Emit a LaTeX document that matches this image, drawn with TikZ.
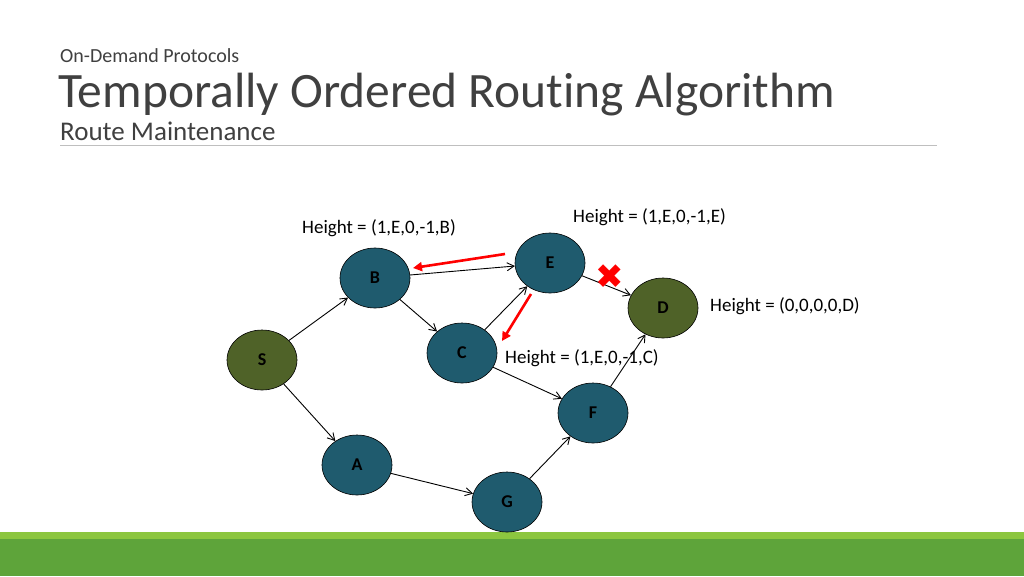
\documentclass[tikz,border=0pt]{standalone}
\usepackage{fontspec}
\setmainfont{Carlito}[Ligatures=NoCommon]
\usetikzlibrary{arrows.meta,shapes.geometric}
\definecolor{teal1}{HTML}{1F5B6E}
\definecolor{olive1}{HTML}{4F6228}
\definecolor{lgreen}{HTML}{8CC63F}
\definecolor{dgreen}{HTML}{5EA43A}
\definecolor{tgrey}{HTML}{404040}
\tikzset{
 nd/.style={ellipse,draw=black,line width=0.6pt,minimum width=70pt,minimum height=60pt,inner sep=0pt,font=\fontsize{18}{18}\selectfont\bfseries,text=black},
 tnode/.style={nd,fill=teal1},
 onode/.style={nd,fill=olive1},
 ed/.style={-{Straight Barb[length=7pt,width=8pt]},line width=0.9pt},
 redarr/.style={-{Triangle[length=9pt,width=9pt]},draw=red,line width=2.6pt},
 lbl/.style={font=\fontsize{19}{19}\selectfont,text=black,inner sep=0pt},
}
\begin{document}
\begin{tikzpicture}[x=1pt,y=-1pt]
\useasboundingbox (0,0) rectangle (1024,576);
\fill[white] (0,0) rectangle (1024,576);
\fill[lgreen] (0,532) rectangle (1024,539);
\fill[dgreen] (0,539) rectangle (1024,576);
\node[anchor=base west,inner sep=0pt,text=tgrey,font=\fontsize{20}{20}\selectfont] (sup) at (60,62) {On-Demand Protocols};
\node[anchor=base west,inner sep=0pt,text=tgrey,font=\fontsize{49.5}{50}\selectfont] (tit) at (58,107) {Temporally Ordered Routing Algorithm};
\node[anchor=base west,inner sep=0pt,text=tgrey,font=\fontsize{27}{27}\selectfont] (sub) at (60,140) {Route Maintenance};
\draw[gray!50,line width=0.8pt] (60,145) -- (937,145);
\node[onode] (S) at (262,360) {S};
\node[tnode] (B) at (375,278) {B};
\node[tnode] (E) at (550,263) {E};
\node[onode] (D) at (663,308) {D};
\node[tnode] (C) at (462,353) {C};
\node[tnode] (F) at (593,413) {F};
\node[tnode] (A) at (357,465) {A};
\node[tnode] (G) at (507,502) {G};
\draw[ed] (S) -- (B);
\draw[ed] (S) -- (A);
\draw[ed] (B) -- (C);
\draw[ed] (B) -- (E);
\draw[ed] (C) -- (E);
\draw[ed] (C) -- (F);
\draw[ed] (A) -- (G);
\draw[ed] (G) -- (F);
\draw[ed] (F) -- (D);
\draw[ed] (E) -- (D);
\coordinate (r1) at (505,254); \coordinate (r2) at (413,268);
\coordinate (r3) at (531,294); \coordinate (r4) at (502,341);
\draw[redarr] (r1) -- (r2);
\draw[redarr] (r3) -- (r4);
\node[text=red,font=\fontsize{34}{34}\selectfont,inner sep=0pt] (x) at (610,277) {\fontspec{DejaVu Sans}✖};
\node[lbl,anchor=base west] (hb) at (302,233) {Height = (1,E,0,-1,B)};
\node[lbl,anchor=base west] (he) at (573,222) {Height = (1,E,0,-1,E)};
\node[lbl,anchor=base west] (hd) at (710,311) {Height = (0,0,0,0,D)};
\node[lbl,anchor=base west] (hc) at (505,363) {Height = (1,E,0,-1,C)};
\end{tikzpicture}
\end{document}
